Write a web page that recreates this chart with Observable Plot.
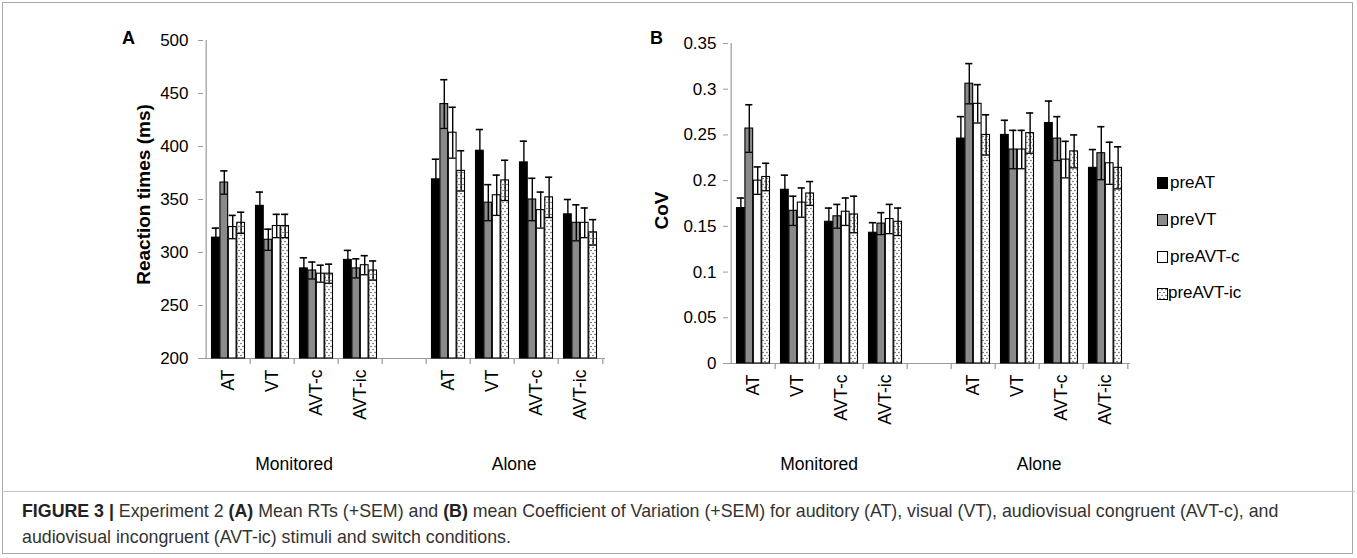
<!DOCTYPE html>
<html><head><meta charset="utf-8">
<script src="https://cdn.jsdelivr.net/npm/d3@7"></script>
<script src="https://cdn.jsdelivr.net/npm/@observablehq/plot@0.6"></script>
<style>
body{margin:0;background:#fff;}
#fig{position:relative;width:1357px;height:558px;overflow:hidden;font-family:"Liberation Sans",Arial,sans-serif;color:#000;}
.panel{position:absolute;top:0;}
#frame{position:absolute;left:2px;top:2px;width:1351px;height:552px;border:1px solid #a8a8a8;box-sizing:border-box;}
#sep{position:absolute;left:2px;top:491px;width:1353px;height:1px;background:#c4c4c4;}
#legend{position:absolute;left:1157px;top:165px;font-size:17px;}
#legend .item{height:36.7px;display:flex;align-items:center;}
#legend .sw{width:9px;height:10px;border:1px solid #000;margin-right:2px;box-sizing:content-box;}
#caption{position:absolute;left:22px;top:498px;font-family:"Liberation Sans",Arial,sans-serif;font-size:17.8px;line-height:26px;color:#333;white-space:nowrap;}
#caption b{color:#222;}
</style></head><body>
<svg width="0" height="0" style="position:absolute">
  <defs>
    <pattern id="dots" width="4" height="6" patternUnits="userSpaceOnUse">
      <rect width="4" height="6" fill="#fff"/>
      <circle cx="1" cy="1.5" r="0.65" fill="#333"/>
      <circle cx="3" cy="4.5" r="0.65" fill="#333"/>
    </pattern>
  </defs>
</svg>
<div id="fig">
  <div id="frame"></div>
  <div id="sep"></div>
  <div id="panelA" class="panel" style="left:0px"></div>
  <div id="panelB" class="panel" style="left:640px"></div>
  <div id="legend"></div>
  <div id="caption"></div>
</div>
<script>
// ---------- data ----------
const groups = ["Monitored", "Alone"];
const stimuli = ["AT", "VT", "AVT-c", "AVT-ic"];
const series = ["preAT", "preVT", "preAVT-c", "preAVT-ic"];

// Panel A: reaction times (ms), rows = stimuli, columns = series
const rtMonitored    = [[314, 366, 324, 328], [344, 312, 325, 325], [285, 283, 280, 280], [293, 285, 288, 283]];
const rtMonitoredSem = [[9, 11, 11, 10], [13, 10, 11, 11], [10, 8, 8, 9], [9, 9, 9, 9]];
const rtAlone        = [[369, 440, 413, 377], [396, 347, 354, 368], [385, 350, 340, 352], [336, 328, 328, 319]];
const rtAloneSem     = [[19, 23, 24, 19], [20, 17, 19, 19], [20, 20, 17, 19], [14, 17, 14, 12]];

// Panel B: coefficient of variation
const covMonitored    = [[0.170, 0.257, 0.200, 0.204], [0.190, 0.167, 0.176, 0.186], [0.155, 0.161, 0.166, 0.163], [0.143, 0.153, 0.158, 0.155]];
const covMonitoredSem = [[0.011, 0.026, 0.015, 0.015], [0.016, 0.016, 0.016, 0.013], [0.015, 0.013, 0.015, 0.020], [0.011, 0.012, 0.016, 0.015]];
const covAlone        = [[0.246, 0.306, 0.284, 0.250], [0.250, 0.234, 0.234, 0.252], [0.263, 0.246, 0.223, 0.232], [0.214, 0.230, 0.219, 0.214]];
const covAloneSem     = [[0.024, 0.022, 0.021, 0.022], [0.016, 0.021, 0.021, 0.022], [0.024, 0.024, 0.020, 0.018], [0.020, 0.029, 0.023, 0.023]];

const rtTicks = [200, 250, 300, 350, 400, 450, 500];
const covTicks = [0, 0.05, 0.1, 0.15, 0.2, 0.25, 0.3, 0.35];
const covTickLabels = ["0", "0.05", "0.1", "0.15", "0.2", "0.25", "0.3", "0.35"];

const seriesFill = ["#000000", "#8a8a8a", "#ffffff", "url(#dots)"];
const caption1 = ["FIGURE 3 |", " Experiment 2 ", "(A)", " Mean RTs (+SEM) and ", "(B)", " mean Coefficient of Variation (+SEM) for auditory (AT), visual (VT), audiovisual congruent (AVT-c), and"];
const caption2 = "audiovisual incongruent (AVT-ic) stimuli and switch conditions.";

// ---------- build ----------
const GAP = "gap";
const slotKeys = [...stimuli.map(s => groups[0] + "|" + s), GAP, ...stimuli.map(s => groups[1] + "|" + s)];
const slotLabel = k => k === GAP ? "" : k.split("|")[1];

function table(meansByGroup, semsByGroup) {
  const out = [];
  groups.forEach((g, gi) => stimuli.forEach((st, si) => series.forEach((se, ki) => {
    out.push({slot: g + "|" + st, series: se, value: meansByGroup[gi][si][ki], sem: semsByGroup[gi][si][ki]});
  })));
  return out;
}
const rtData = table([rtMonitored, rtAlone], [rtMonitoredSem, rtAloneSem]);
const covData = table([covMonitored, covAlone], [covMonitoredSem, covAloneSem]);

const font = '"Liberation Sans", Arial, sans-serif';

function panel({data, yDomain, ticks, tickFormat, width, ml, mr, mt, mb, title, letter, tickPad, titleDx, titleDy, letterDx, letterDy, groupDy}) {
  const H = 480;
  const plotW = width - ml - mr;
  const plotH = H - mt - mb;
  const step = plotW / slotKeys.length;
  const pad = 5.5;
  const bw = (step - 2 * pad) / 4;
  const axisGrey = "#9a9a9a";
  const marks = [];
  // axis lines
  marks.push(Plot.ruleY([yDomain[0]], {stroke: axisGrey, strokeWidth: 1.2}));
  marks.push(Plot.ruleX([slotKeys[0]], {x: d => d, dx: -step / 2, stroke: axisGrey, strokeWidth: 1.2, insetBottom: -1}));
  // boundary ticks on x axis
  marks.push(Plot.ruleX(slotKeys.slice(1), {x: d => d, dx: -step / 2, insetTop: plotH, insetBottom: -6, stroke: axisGrey, strokeWidth: 1.2}));
  marks.push(Plot.ruleX(slotKeys.slice(-1), {x: d => d, dx: step / 2, insetTop: plotH, insetBottom: -6, stroke: axisGrey, strokeWidth: 1.2}));
  series.forEach((s, j) => {
    const ds = data.filter(d => d.series === s);
    const inL = pad + j * bw, inR = pad + (3 - j) * bw;
    marks.push(Plot.barY(ds, {x: "slot", y1: yDomain[0], y2: "value", fill: seriesFill[j], stroke: "#000", strokeWidth: 1.1, insetLeft: inL, insetRight: inR}));
  });
  series.forEach((s, j) => {
    const ds = data.filter(d => d.series === s);
    const inL = pad + j * bw, inR = pad + (3 - j) * bw;
    const off = pad + (j + 0.5) * bw - step / 2;
    marks.push(Plot.ruleX(ds, {x: "slot", y1: d => d.value - d.sem, y2: d => d.value + d.sem, dx: off, stroke: "#000", strokeWidth: 1.4}));
    marks.push(Plot.tickY(ds, {x: "slot", y: d => d.value + d.sem, insetLeft: inL + 0.3, insetRight: inR + 0.3, stroke: "#000", strokeWidth: 1.6}));
    marks.push(Plot.tickY(ds, {x: "slot", y: d => d.value - d.sem, insetLeft: inL + 0.3, insetRight: inR + 0.3, stroke: "#000", strokeWidth: 1.3}));
  });
  // axes
  marks.push(Plot.axisY({ticks, tickFormat, tickSize: 5, tickPadding: tickPad, fontSize: 17, stroke: axisGrey, label: null}));
  marks.push(Plot.axisX({tickSize: 0, tickPadding: 11, tickRotate: -90, fontSize: 17.5, tickFormat: slotLabel, label: null}));
  // group labels, centred under each group of four
  marks.push(Plot.text(groups.map(g => ({slot: g + "|" + stimuli[2], label: g})), {x: "slot", text: "label", frameAnchor: "bottom", dx: -step / 2, dy: groupDy, fontSize: 17.5, lineAnchor: "middle"}));
  // titles
  marks.push(Plot.text([title], {text: d => d, frameAnchor: "left", dx: titleDx, dy: titleDy, rotate: -90, textAnchor: "middle", lineAnchor: "middle", fontWeight: "bold", fontSize: 19}));
  marks.push(Plot.text([letter], {text: d => d, frameAnchor: "top-left", dx: letterDx, dy: letterDy, textAnchor: "middle", lineAnchor: "middle", fontWeight: "bold", fontSize: 18}));
  return Plot.plot({
    width, height: H, marginLeft: ml, marginRight: mr, marginTop: mt, marginBottom: mb,
    x: {type: "band", domain: slotKeys, padding: 0},
    y: {type: "linear", domain: yDomain},
    style: {fontFamily: font, fontSize: "17px", color: "#000", background: "transparent", overflow: "visible"},
    marks
  });
}

document.getElementById("panelA").appendChild(panel({
  data: rtData, yDomain: [200, 500], ticks: rtTicks, tickFormat: d => String(d),
  width: 640, ml: 203, mr: 35, mt: 40, mb: 122, title: "Reaction times (ms)", letter: "A",
  tickPad: 10, titleDx: -60, titleDy: -5, letterDx: -75, letterDy: -2.5, groupDy: 106
}));
document.getElementById("panelB").appendChild(panel({
  data: covData, yDomain: [0, 0.35], ticks: covTicks, tickFormat: d => covTickLabels[covTicks.indexOf(d)],
  width: 717, ml: 88, mr: 227, mt: 43, mb: 117, title: "CoV", letter: "B",
  tickPad: 7, titleDx: -67, titleDy: 7, letterDx: -72, letterDy: -5.5, groupDy: 101
}));

// legend
const legend = document.getElementById("legend");
series.forEach((s, j) => {
  const item = document.createElement("div");
  item.className = "item";
  const sw = document.createElement("span");
  sw.className = "sw";
  if (seriesFill[j].startsWith("url")) {
    sw.style.border = "none";
    sw.innerHTML = '<svg width="11" height="12" style="display:block"><rect x="0.5" y="0.5" width="10" height="11" fill="url(#dots)" stroke="#000"/></svg>';
  } else {
    sw.style.background = seriesFill[j];
  }
  const t = document.createElement("span");
  t.textContent = s;
  item.appendChild(sw); item.appendChild(t);
  legend.appendChild(item);
});

// caption
const cap = document.getElementById("caption");
const l1 = document.createElement("div");
caption1.forEach((part, i) => {
  const el = document.createElement(i === 0 || i === 2 || i === 4 ? "b" : "span");
  el.textContent = part;
  l1.appendChild(el);
});
const l2 = document.createElement("div");
l2.textContent = caption2;
cap.appendChild(l1); cap.appendChild(l2);
</script>
</body></html>
